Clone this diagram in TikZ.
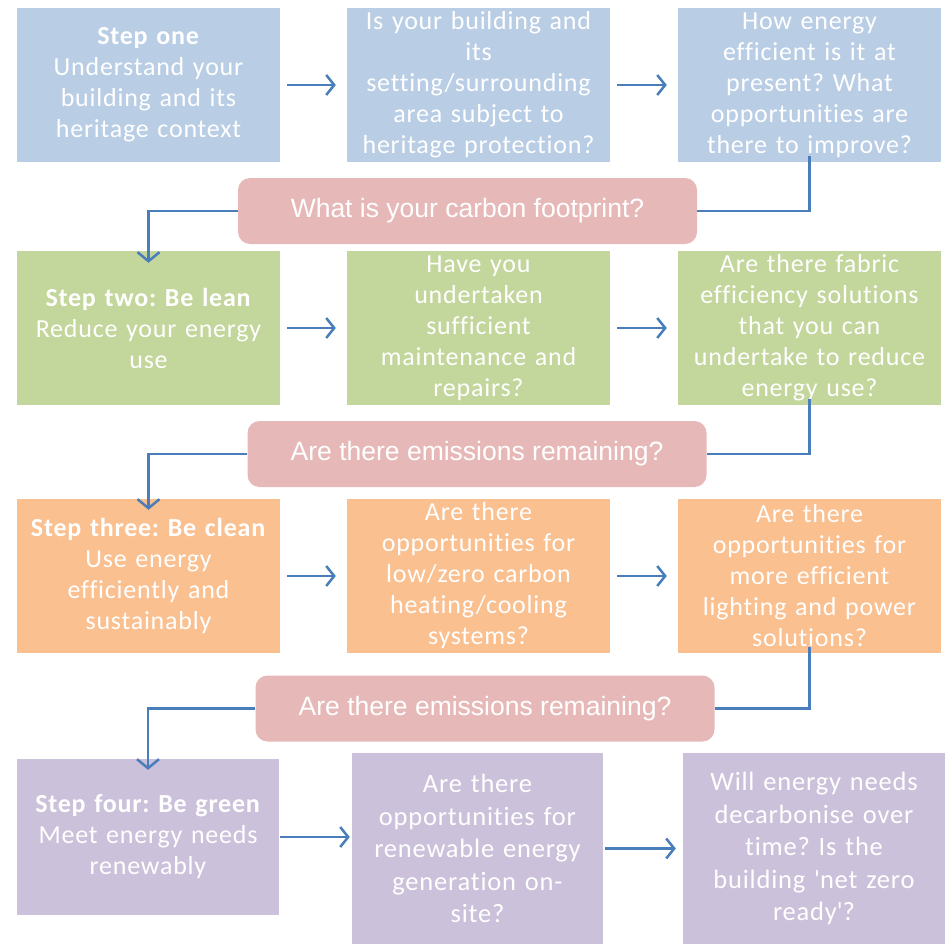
\documentclass[tikz,border=0pt]{standalone}
\usepackage{fontspec}
\setmainfont[LetterSpace=3,Ligatures=NoCommon,RawFeature={-liga;-clig;-calt;-dlig}]{Carlito}
\newfontfamily\askfont{Liberation Sans}
\usetikzlibrary{arrows.meta,positioning,calc}
\definecolor{bluebg}{HTML}{B9CDE5}
\definecolor{pinkbg}{HTML}{E6B9B8}
\definecolor{grnbg}{HTML}{C3D69B}
\definecolor{orgbg}{HTML}{FAC090}
\definecolor{purbg}{HTML}{CCC1DA}
\definecolor{linkblue}{HTML}{4A7EBB}
\tikzset{
  stepcard/.style={draw=none,minimum width=263pt,minimum height=154pt,
                   text width=260pt,align=center,inner sep=0pt,
                   text=white,font=\fontsize{26}{31}\selectfont},
  askcard/.style={draw=none,fill=pinkbg,rounded corners=12pt,
                  minimum width=459pt,minimum height=66pt,inner sep=0pt,
                  text=white,font=\askfont\fontsize{26.5}{31}\selectfont},
  flowarr/.style={-{Straight Barb[length=8pt,width=20pt]},line width=2.5pt,
                  draw=linkblue,shorten <=7pt,shorten >=11pt},
  elbowarr/.style={-{Straight Barb[length=9pt,width=22pt]},line width=2.5pt,
                   draw=linkblue}
}

\begin{document}
\frenchspacing
\begin{tikzpicture}[x=1pt,y=-1pt]
  \useasboundingbox (0,0) rectangle (949,944);

  % step one
  \node[stepcard,fill=bluebg] (s1a) at (148.5,85) {\textbf{Step one}\\Understand your\\building and its\\heritage context};
  \node[stepcard,fill=bluebg] (s1b) at (478.5,85) {Is your building and\\its\\setting/surrounding\\area subject to\\heritage protection?};
  \node[stepcard,fill=bluebg] (s1c) at (809.5,85) {How energy\\efficient is it at\\present? What\\opportunities are\\there to improve?};
  \draw[flowarr] (s1a) -- (s1b);
  \draw[flowarr] (s1b) -- (s1c);
  \node[askcard] (q1) at (467.5,211) {What is your carbon footprint?};

  % step two
  \node[stepcard,fill=grnbg] (s2a) at (148.5,328) {\textbf{Step two: Be lean}\\Reduce your energy\\use};
  \node[stepcard,fill=grnbg] (s2b) at (478.5,328) {Have you\\undertaken\\sufficient\\maintenance and\\repairs?};
  \node[stepcard,fill=grnbg] (s2c) at (809.5,328) {Are there fabric\\efficiency solutions\\that you can\\undertake to reduce\\energy use?};
  \draw[flowarr] (s2a) -- (s2b);
  \draw[flowarr] (s2b) -- (s2c);
  \node[askcard] (q2) at (477,454) {Are there emissions remaining?};

  % step three
  \node[stepcard,fill=orgbg] (s3a) at (148.5,576) {\textbf{Step three: Be clean}\\Use energy\\efficiently and\\sustainably};
  \node[stepcard,fill=orgbg] (s3b) at (478.5,576) {Are there\\opportunities for\\low/zero carbon\\heating/cooling\\systems?};
  \node[stepcard,fill=orgbg] (s3c) at (809.5,576) {Are there\\opportunities for\\more efficient\\lighting and power\\solutions?};
  \draw[flowarr] (s3a) -- (s3b);
  \draw[flowarr] (s3b) -- (s3c);
  \node[askcard] (q3) at (485,708.5) {Are there emissions remaining?};

  % step four
  \node[stepcard,fill=purbg,minimum width=262pt,minimum height=156pt] (s4a) at (148,837) {\textbf{Step four: Be green}\\Meet energy needs\\renewably};
  \node[stepcard,fill=purbg,minimum width=251pt,minimum height=191pt,text width=250pt,
        font=\fontsize{26.5}{32.5}\selectfont] (s4b) at (477.5,848.5) {Are there\\opportunities for\\renewable energy\\generation on-\\site?};
  \node[stepcard,fill=purbg,minimum width=262pt,minimum height=191pt,
        font=\fontsize{26.5}{32.5}\selectfont] (s4c) at (814,848.5) {Will energy needs\\decarbonise over\\time? Is the\\building \textquotesingle net zero\\ready\textquotesingle?};
  \draw[flowarr,shorten <=1pt,shorten >=2pt] (s4a.east) -- (s4b.west |- s4a.east);
  \draw[flowarr,shorten <=2pt,shorten >=7pt] (s4b) -- (s4c);

  % links between the rows
  \draw[elbowarr,-] ([yshift=6pt]s1c.south) |- (q1.east);
  \draw[elbowarr] (q1.west) -| ([yshift=-12pt]s2a.north);
  \draw[elbowarr,-] ([yshift=6pt]s2c.south) |- (q2.east);
  \draw[elbowarr] (q2.west) -| ([yshift=-11pt]s3a.north);
  \draw[elbowarr,-] ([yshift=6pt]s3c.south) |- (q3.east);
  \draw[elbowarr] (q3.west) -| ([yshift=-11pt]s4a.north);
\end{tikzpicture}
\end{document}
